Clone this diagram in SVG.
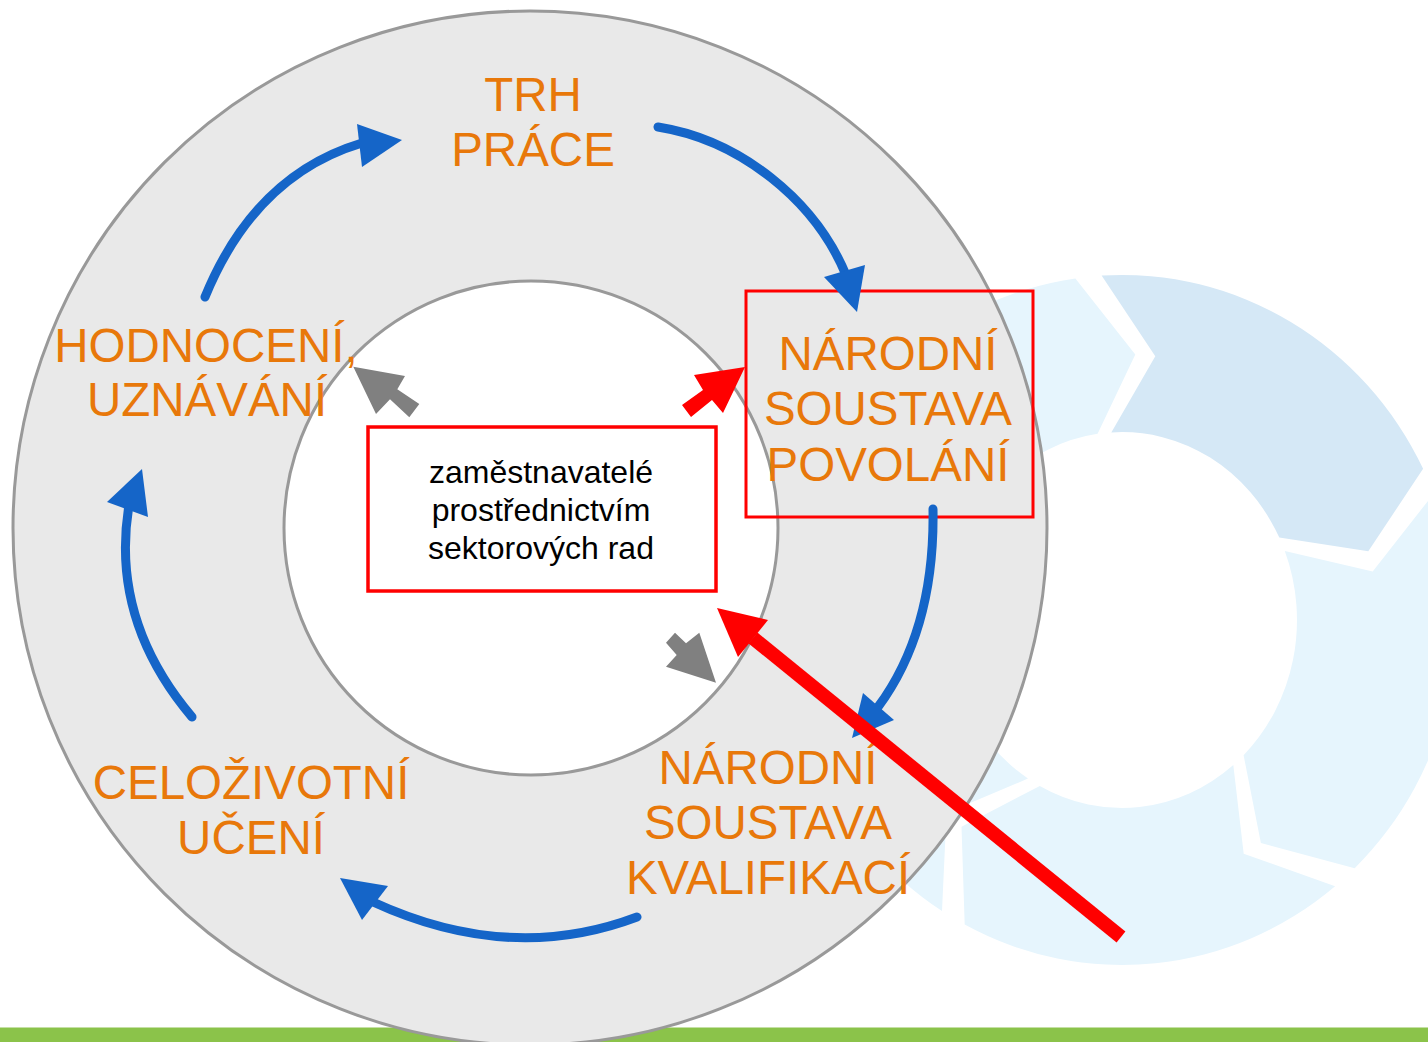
<svg xmlns="http://www.w3.org/2000/svg" width="1428" height="1042" viewBox="0 0 1428 1042">
<style>
.seg-d{fill:#d5e8f6}
.seg-l{fill:#e6f5fd}
.lbl{font-family:"Liberation Sans",Arial,sans-serif;font-size:47.5px;fill:#E8780A;text-anchor:middle}
.inner{font-family:"Liberation Sans",Arial,sans-serif;font-size:32px;fill:#000;text-anchor:middle}
.flow{fill:none;stroke:#1565C8;stroke-width:9;stroke-linecap:round}
.head{fill:#1565C8}
.gray{fill:#808080}
.red{fill:#ff0000}
.box{fill:none;stroke:#ff0000;stroke-width:3}
</style>
<rect x="0" y="0" width="1428" height="1042" fill="#ffffff"/>
<g id="background-cycle">
<path class="seg-d" d="M1101.6,275.6 A335,345 0 0 1 1423.1,468.8 L1368.3,551.2 L1279.3,537.6 A175,188 0 0 0 1111.3,432.4 L1155.3,356.3 Z"/>
<path class="seg-l" d="M1433.7,493.6 A335,345 0 0 1 1354.7,868.2 L1260.9,843.1 L1243.6,755.2 A175,188 0 0 0 1284.8,551.1 L1372.7,571.5 Z"/>
<path class="seg-l" d="M1335.1,886.2 A335,345 0 0 1 964.7,924.6 L961.5,826.7 L1039.8,786.0 A175,188 0 0 0 1233.3,765.1 L1243.7,853.8 Z"/>
<path class="seg-l" d="M942.0,911.0 A335,345 0 0 1 792.1,560.1 L883.9,524.7 L949.7,587.4 A175,188 0 0 0 1028.0,778.6 L946.5,813.0 Z"/>
<path class="seg-l" d="M797.7,533.6 A335,345 0 0 1 1075.4,278.4 L1135.3,354.4 L1097.6,433.8 A175,188 0 0 0 952.6,572.9 L891.8,505.5 Z"/>
</g>
<g id="footer-bar">
<rect x="0" y="1027" width="1428" height="2" fill="#c5e0a5"/>
<rect x="0" y="1028" width="1428" height="14" fill="#8bc34a"/>
</g>
<g id="outer-ring">
<circle cx="530" cy="528" r="517" fill="#e9e9e9" stroke="#999999" stroke-width="3"/>
</g>
<g id="inner-ring">
<circle cx="531" cy="528" r="247" fill="#ffffff" stroke="#999999" stroke-width="3"/>
</g>
<g id="node-trh-prace">
<text class="lbl" x="533" y="111">TRH</text>
<text class="lbl" x="533" y="166">PRÁCE</text>
</g>
<g id="node-hodnoceni">
<text class="lbl" x="206" y="362">HODNOCENÍ,</text>
<text class="lbl" x="207" y="416">UZNÁVÁNÍ</text>
</g>
<g id="node-nsp">
<rect class="box" x="746" y="291" width="287" height="226"/>
<text class="lbl" x="888" y="370">NÁRODNÍ</text>
<text class="lbl" x="888" y="425">SOUSTAVA</text>
<text class="lbl" x="888" y="481">POVOLÁNÍ</text>
</g>
<g id="node-celozivotni">
<text class="lbl" x="251" y="799">CELOŽIVOTNÍ</text>
<text class="lbl" x="251" y="854">UČENÍ</text>
</g>
<g id="node-nsk">
<text class="lbl" x="768" y="784">NÁRODNÍ</text>
<text class="lbl" x="768" y="839">SOUSTAVA</text>
<text class="lbl" x="768" y="894">KVALIFIKACÍ</text>
</g>
<g id="node-zamestnavatele">
<rect x="368" y="427" width="348" height="164" fill="#ffffff" stroke="#ff0000" stroke-width="3.5"/>
<text class="inner" x="541" y="483">zaměstnavatelé</text>
<text class="inner" x="541" y="521">prostřednictvím</text>
<text class="inner" x="541" y="559">sektorových rad</text>
</g>
<g id="connectors">
<path class="flow" d="M205,297 Q255,175 362,143"/>
<polygon class="head" points="402,140 357,124 362,167"/>
<path class="flow" d="M658,127 C740,140 815,200 846,275"/>
<polygon class="head" points="857,312 824,277 865,265"/>
<path class="flow" d="M933,509 Q935,630 878,707"/>
<polygon class="head" points="852,738 863,693 894,720"/>
<path class="flow" d="M637,917 Q510,965 373,902"/>
<polygon class="head" points="340,878 388,886 362,920"/>
<path class="flow" d="M192,717 Q110,620 129,505"/>
<polygon class="head" points="142,469 107,502 148,517"/>
<polygon class="gray" points="353.3,366.7 405,376 397.3,389.3 419.3,404 409.3,417.3 390,399.3 376,414"/>
<polygon class="gray" points="675,632.7 686,643.3 699.3,632.7 716,682.7 666,666.7 676.7,655 666,642.7"/>
<polygon class="red" points="682,405 703,390 694,375 745,367 723,413 712,400 691,417"/>
<line x1="753" y1="638" x2="1121" y2="937" stroke="#ff0000" stroke-width="14"/>
<polygon class="red" points="717,608 768,620 738,657"/>
</g>
</svg>
